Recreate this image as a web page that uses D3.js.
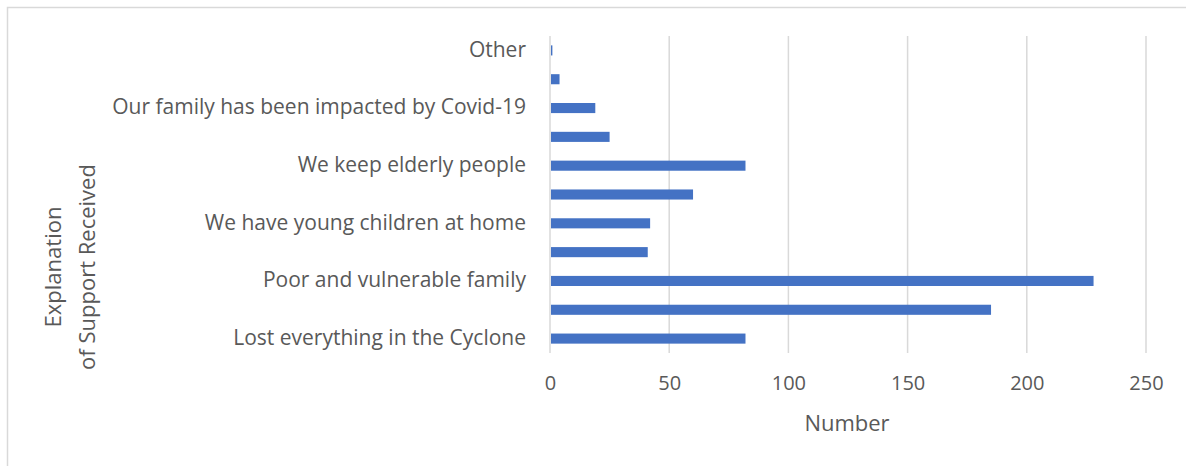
<!DOCTYPE html>
<html>
<head>
<meta charset="utf-8">
<script src="https://cdn.jsdelivr.net/npm/d3@7"></script>
<style>
  html, body { margin: 0; padding: 0; background: #fff; }
  svg text { font-family: "Open Sans", Carlito, Calibri, "Liberation Sans", sans-serif; fill: #595959; }
</style>
</head>
<body>
<svg id="chart" width="1186" height="466"></svg>
<script>
// Category labels, top to bottom (only every other one is printed on the axis)
const categoryLabels = [
  "Other",
  "",
  "Our family has been impacted by Covid-19",
  "",
  "We keep elderly people",
  "",
  "We have young children at home",
  "",
  "Poor and vulnerable family",
  "",
  "Lost everything in the Cyclone"
];
// Number of responses for each category, same order
const counts = [1, 4, 19, 25, 82, 60, 42, 41, 228, 185, 82];
const xTicks = [0, 50, 100, 150, 200, 250];

const svg = d3.select("#chart");

// Chart area frame
svg.append("rect")
  .attr("x", 7.5).attr("y", 7.5)
  .attr("width", 1200).attr("height", 480)
  .attr("fill", "none").attr("stroke", "#d9d9d9").attr("stroke-width", 1.5);

const plotLeft = 550, plotRight = 1146, plotTop = 36, plotBottom = 353;

const x = d3.scaleLinear().domain([0, 250]).range([plotLeft, plotRight]);
const y = d3.scaleBand()
  .domain(d3.range(counts.length))
  .range([plotTop, plotBottom])
  .paddingInner(0.65).paddingOuter(0.325);

// Vertical gridlines
svg.append("g")
  .selectAll("line")
  .data(xTicks)
  .join("line")
  .attr("x1", d => x(d)).attr("x2", d => x(d))
  .attr("y1", plotTop).attr("y2", plotBottom)
  .attr("stroke", "#d9d9d9").attr("stroke-width", 1.5);

// Bars
svg.append("g")
  .selectAll("rect")
  .data(counts)
  .join("rect")
  .attr("x", x(0) + 1)
  .attr("y", (d, i) => y(i))
  .attr("width", d => Math.max(0, x(d) - x(0) - 1))
  .attr("height", y.bandwidth())
  .attr("fill", "#4472c4");

// X axis tick labels
const xAxis = d3.axisBottom(x).tickValues(xTicks).tickSize(0).tickPadding(0);
const gx = svg.append("g").attr("transform", `translate(0, ${plotBottom + 37})`).call(xAxis);
gx.select(".domain").remove();
gx.selectAll("text")
  .attr("dy", null).attr("y", 0)
  .style("font-size", "20px").style("fill", "#595959");

// Y axis category labels
const yAxis = d3.axisLeft(y).tickFormat(i => categoryLabels[i]).tickSize(0).tickPadding(0);
const gy = svg.append("g").attr("transform", `translate(${plotLeft - 24}, 0)`).call(yAxis);
gy.select(".domain").remove();
gy.selectAll("text")
  .attr("dy", "0.3em")
  .style("font-size", "21px").style("fill", "#595959");

// Axis titles
svg.append("text")
  .attr("x", 847).attr("y", 431)
  .attr("text-anchor", "middle")
  .style("font-size", "22px")
  .text("Number");

const yt = svg.append("text")
  .attr("transform", "translate(0, 267) rotate(-90)")
  .attr("text-anchor", "middle")
  .style("font-size", "22px");
yt.append("tspan").attr("x", 0).attr("y", 61).text("Explanation");
yt.append("tspan").attr("x", 0).attr("y", 95).text("of Support Received");
</script>
</body>
</html>
